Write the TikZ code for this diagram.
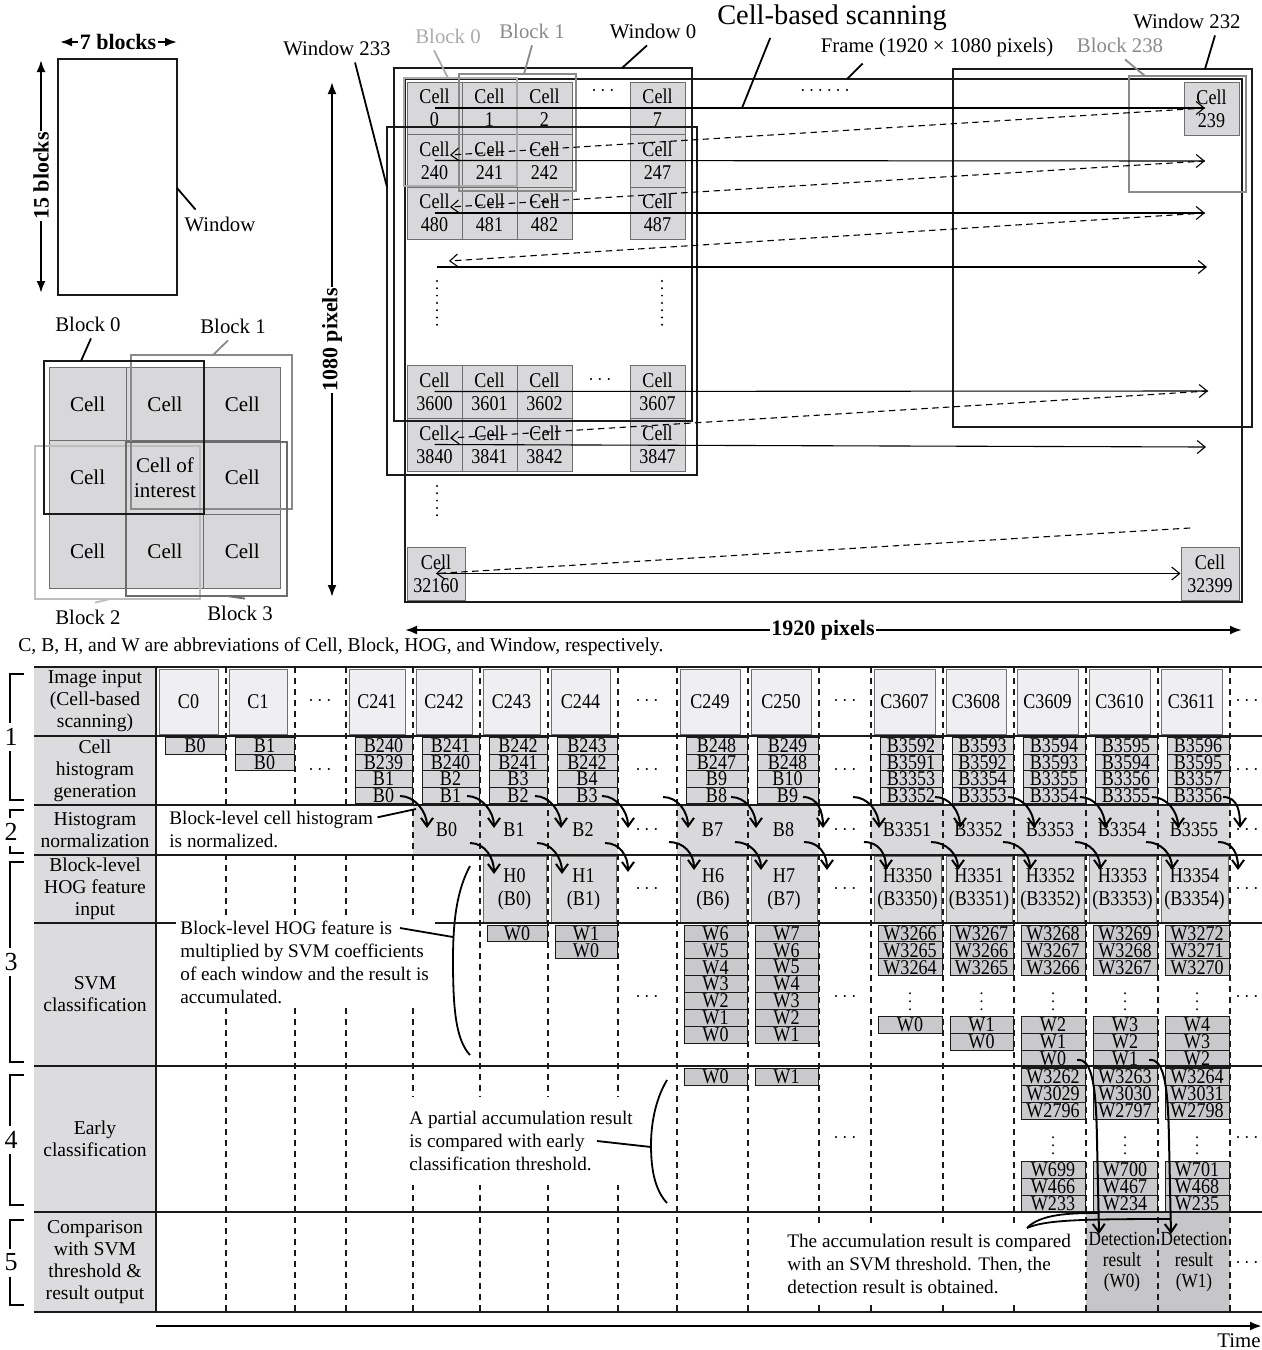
\documentclass[tikz,border=0pt]{standalone}
\usepackage{fontspec}
\setmainfont{Liberation Serif}
\newfontfamily\narrowserif{Liberation Serif}[FakeStretch=0.86]
\usepackage{tikz}
\usetikzlibrary{
arrows.meta,
calc
}
\definecolor{hogblack}{HTML}{1A1A1A}
\definecolor{cellgray}{HTML}{D8D8DA}
\definecolor{inputgray}{HTML}{EFEFF1}
\definecolor{blockgray}{HTML}{D6D6D8}
\definecolor{normgray}{HTML}{D9D9DB}
\definecolor{wingray}{HTML}{C9C9CB}
\definecolor{detgray}{HTML}{C6C6C8}
\definecolor{labgray}{HTML}{DCDCDE}
\definecolor{edgegray}{HTML}{6E6E70}
\definecolor{blkone}{HTML}{8A8A8A}
\definecolor{blktwo}{HTML}{BDBDBD}
\definecolor{blkthree}{HTML}{6C6C6C}
\definecolor{blklight}{HTML}{ABABAB}

%% box of given pixel extent: name, style, x0, x1, y0, y1, text
\newcommand{\hogslot}[7]{%
  \node[#2, minimum width={((#4)-(#3))*0.5pt},
        minimum height={((#6)-(#5))*0.5pt}]
    (#1) at ({((#3)+(#4))/2},{((#5)+(#6))/2}) {#7};}

\begin{document}
\begin{tikzpicture}[
  x=0.5pt, y=-0.5pt,
  every node/.style={font=\fontsize{10.4}{12}\selectfont},
  thickline/.style={line width=1.1pt, hogblack},
  dimlbl/.style={font=\bfseries\fontsize{11}{12}\selectfont, inner sep=0.5pt},
  dimarr/.style={line width=1.1pt, -{Latex[length=6pt,width=4.5pt]}},
  scanarr/.style={line width=0.55pt, -{Straight Barb[length=4pt,width=6.5pt]}},
  scanret/.style={scanarr, dash pattern=on 3.2pt off 2.2pt},
  flowarr/.style={line width=1pt, -{Straight Barb[length=4.2pt,width=6pt]}},
  leader/.style={line width=0.9pt},
  gridcell/.style={draw=edgegray, line width=0.5pt, fill=cellgray, inner sep=0pt,
    align=center, font=\fontsize{10.5}{12.5}\selectfont},
  topcell/.style={draw=edgegray, line width=0.5pt, fill=cellgray, inner sep=0pt,
    align=center, font=\narrowserif\fontsize{10.5}{11.5}\selectfont},
  inbox/.style={draw=edgegray, line width=0.5pt, fill=inputgray, inner sep=0pt,
    font=\narrowserif\fontsize{10.5}{12}\selectfont},
  bbox/.style={draw=hogblack, line width=0.5pt, fill=blockgray, inner sep=0pt,
    font=\narrowserif\fontsize{10.5}{12}\selectfont},
  nbox/.style={fill=normgray, inner sep=0pt, font=\narrowserif\fontsize{10.5}{12}\selectfont},
  hbox/.style={draw=edgegray, line width=0.5pt, fill=normgray, inner sep=0pt, align=center,
    font=\narrowserif\fontsize{10.5}{11.5}\selectfont},
  wbox/.style={draw=hogblack, line width=0.5pt, fill=wingray, inner sep=0pt,
    font=\narrowserif\fontsize{10.5}{12}\selectfont},
  dbox/.style={fill=detgray, inner sep=0pt, align=center,
    font=\narrowserif\fontsize{10}{10.5}\selectfont},
  vdot/.style={inner sep=0pt, font=\fontsize{8}{9}\selectfont},
  rowlbl/.style={align=center, font=\fontsize{9.8}{11}\selectfont},
  note/.style={align=left, fill=white, inner sep=2pt, font=\fontsize{9.6}{11.5}\selectfont},
  colsep/.style={dash pattern=on 3pt off 2.5pt, line width=0.6pt, hogblack}
]
\useasboundingbox (0,0) rectangle (1262,1350);

%% ── WINDOW SKETCH ───────────────────────────────────────────────
\node[dimlbl] (sevenb) at (118,42) {7 blocks};
\draw[dimarr] (sevenb.west) -- (60,42);
\draw[dimarr] (sevenb.east) -- (177,42);
\draw[thickline] (58,59) rectangle (177,295);
\node[dimlbl, rotate=90] (fifteenb) at (41,176) {15 blocks};
\draw[dimarr] (fifteenb.east) -- (41,60);
\draw[dimarr] (fifteenb.west) -- (41,293);
\node (winlbl) at (220,224) {Window};
\draw[leader] (177,188) -- ([xshift=9pt]winlbl.north west);

%% ── CELL / BLOCK SKETCH ─────────────────────────────────────────
\foreach \ii/\jj/\lab in {0/0/Cell, 1/0/Cell, 2/0/Cell, 0/1/Cell, 1/1/{Cell of\\interest},
                          2/1/Cell, 0/2/Cell, 1/2/Cell, 2/2/Cell}
  {\hogslot{g\ii\jj}{gridcell}{49+77.33*\ii}{126.33+77.33*\ii}{367+73.67*\jj}{440.67+73.67*\jj}{\lab}}
\draw[line width=1.3pt, blktwo] (35,446) rectangle (200,599);
\draw[line width=1.3pt, blkone] (131,355) rectangle (292,509);
\draw[line width=1.3pt, blkthree] (126,442) rectangle (287,596);
\draw[line width=1.3pt, hogblack] (44,361) rectangle (204,514);

\node (gblk0) at (88,324) {Block 0};
\draw[leader] ([xshift=1.5pt]gblk0.south) -- (81,361);
\node (gblk1) at (233,326) {Block 1};
\draw[leader, blkone] ([xshift=-2.5pt]gblk1.south) -- (213,355);
\node (gblk2) at (88,617) {Block 2};
\draw[leader, blktwo] ([xshift=3.5pt]gblk2.north) -- (110,599);
\node (gblk3) at (240,613) {Block 3};
\draw[leader, blkthree] ([xshift=2.5pt]gblk3.north) -- (227,596);

%% ── FRAME: CELL-BASED SCANNING ──────────────────────────────────
\foreach \ya/\yb/\ca/\cb/\cc/\cd in {82/134/0/1/2/7, 134/187/240/241/242/247,
    187/239/480/481/482/487, 365/418/3600/3601/3602/3607, 418/471/3840/3841/3842/3847}
{
  \hogslot{cell\ca}{topcell}{407}{462}{\ya}{\yb}{Cell\\\ca}
  \hogslot{cell\cb}{topcell}{462}{517}{\ya}{\yb}{Cell\\\cb}
  \hogslot{cell\cc}{topcell}{517}{572}{\ya}{\yb}{Cell\\\cc}
  \hogslot{cell\cd}{topcell}{630}{685}{\ya}{\yb}{Cell\\\cd}
}
\hogslot{cell239}{topcell}{1184}{1239}{82}{135}{Cell\\239}
\hogslot{cell32160}{topcell}{407}{465}{547}{600}{Cell\\32160}
\hogslot{cell32399}{topcell}{1181}{1239}{547}{600}{Cell\\32399}

\node (dotsa) at (603,91) {$\cdots$};
\node (dotsb) at (825,91) {$\cdots\cdots$};
\node (dotsc) at (600,380) {$\cdots$};
\foreach \kk in {0,...,6} {
  \fill (437,281+7.3*\kk) circle (0.55pt);
  \fill (662,281+7.3*\kk) circle (0.55pt);
}
\foreach \kk in {0,...,4}
  \fill (437,486+7.3*\kk) circle (0.55pt);

%% windows and blocks
\draw[line width=1.2pt, hogblack] (405,79) rectangle (1242,602);
\draw[line width=1.2pt, blklight] (404,78) rectangle (517,186);
\draw[line width=1.2pt, blkone] (459,74) rectangle (576,191);
\draw[line width=1.2pt, blkone] (1129,76) rectangle (1246,192);
\draw[line width=1.2pt, hogblack] (394,68) rectangle (692,421);
\draw[line width=1.2pt, hogblack] (387,127) rectangle (697,475);
\draw[line width=1.2pt, hogblack] (953,69) rectangle (1252,427);

%% scan order
\draw[scanarr] (cell0.center) -- (1205,108);
\draw[scanret] (1205,108) -- (450,155);
\draw[scanarr] (cell240.center) -- (1205,161);
\draw[scanret] (1205,161) -- (450,207);
\draw[scanarr] (cell480.center) -- (1205,213);
\draw[scanret] (1205,213) -- (449,261);
\draw[scanarr] (437,267) -- (1207,267);
\draw[scanarr] (cell3600.center) -- (1208,391);
\draw[scanret] (1208,391) -- (450,438);
\draw[scanarr] (cell3840.center) -- (1206,447);
\draw[scanret] (1190,528) -- (cell32160.center);
\draw[scanarr] (cell32160.center) -- (cell32399.west);

%% labels
\node[font=\fontsize{14.2}{16}\selectfont] (scanlbl) at (832,18) {Cell-based scanning};
\draw[leader] ([xshift=30pt]scanlbl.south west) -- (742,108);
\node (framelbl) at (937,47) {Frame (1920 × 1080 pixels)};
\draw[leader] ([xshift=24.5pt]framelbl.south west) -- (847,79);
\node (win233lbl) at (337,48) {Window 233};
\draw[leader] ([xshift=9pt]win233lbl.south) -- (387,187);
\node[blklight] (fblk0) at (448,36) {Block 0};
\draw[leader, blklight] ([xshift=-7pt]fblk0.south) -- (448,78);
\node[blkone] (fblk1) at (532,31) {Block 1};
\draw[leader, blkone] (fblk1.south) -- (524,74);
\node (win0lbl) at (653,31) {Window 0};
\draw[leader] ([xshift=-3pt]win0lbl.south) -- (622,68);
\node[blkone] (fblk238) at (1120,45) {Block 238};
\draw[leader, blkone] ([xshift=2.5pt]fblk238.south) -- (1145,76);
\node (win232lbl) at (1187,21) {Window 232};
\draw[leader] ([xshift=14pt]win232lbl.south) -- (1205,69);

%% frame dimensions
\node[dimlbl, rotate=90] (hpix) at (332,340) {1080 pixels};
\draw[dimarr] (hpix.east) -- (332,82);
\draw[dimarr] (hpix.west) -- (332,597);
\node[dimlbl] (wpix) at (823,630) {1920 pixels};
\draw[dimarr] (wpix.west) -- (405,630);
\draw[dimarr] (wpix.east) -- (1242,630);

\node[anchor=west, inner sep=0pt, font=\fontsize{9.8}{11}\selectfont] (abbrev) at (18,647)
  {C, B, H, and W are abbreviations of Cell, Block, HOG, and Window, respectively.};

%% ── PIPELINE TABLE ──────────────────────────────────────────────
\fill[labgray] (34,667) rectangle (156,1312);
\foreach \ya/\yb/\lab [count=\rr] in {667/736/{Image input\\(Cell-based\\scanning)},
    736/805/{Cell\\histogram\\generation}, 805/855/{Histogram\\normalization},
    855/923/{Block-level\\HOG feature\\input}, 923/1066/{SVM\\classification},
    1066/1212/{Early\\classification},
    1212/1312/{Comparison\\with SVM\\threshold \&\\result output}}
  \node[rowlbl] (row\rr) at (95,{(\ya+\yb)/2}) {\lab};

%% image input
\foreach \cn/\xs/\cw in {C0/156/70, C1/226/69, C241/346/67, C242/413/67, C243/480/68,
    C244/548/70, C249/677/71, C250/748/71, C3607/871/72, C3608/943/71, C3609/1014/72,
    C3610/1086/72, C3611/1158/72}
  {\hogslot{in\cn}{inbox}{\xs+3}{\xs+\cw-8}{669}{734}{\cn}}

%% cell histogram generation
\foreach \xs/\cw/\lst in {156/70/{B0}, 226/69/{B1,B0}, 346/67/{B240,B239,B1,B0},
    413/67/{B241,B240,B2,B1}, 480/68/{B242,B241,B3,B2}, 548/70/{B243,B242,B4,B3},
    677/71/{B248,B247,B9,B8}, 748/71/{B249,B248,B10,B9}, 871/72/{B3592,B3591,B3353,B3352},
    943/71/{B3593,B3592,B3354,B3353}, 1014/72/{B3594,B3593,B3355,B3354},
    1086/72/{B3595,B3594,B3356,B3355}, 1158/72/{B3596,B3595,B3357,B3356}}
  {\foreach \lab [count=\kk from 0] in \lst
     {\hogslot{hb\xs-\kk}{bbox}{\xs+9}{\xs+\cw-1}{737.5+16.6*\kk}{754.1+16.6*\kk}{\lab}}}

%% histogram normalization
\foreach \xs/\cw/\lab in {413/67/B0, 480/68/B1, 548/70/B2, 677/71/B7, 748/71/B8,
    871/72/B3351, 943/71/B3352, 1014/72/B3353, 1086/72/B3354, 1158/72/B3355}
  {\hogslot{nb\xs}{nbox}{\xs}{\xs+\cw}{805}{855}{\lab}}

%% block-level HOG feature input
\foreach \xs/\cw/\hh/\hb in {480/68/H0/B0, 548/70/H1/B1, 677/71/H6/B6, 748/71/H7/B7,
    871/72/H3350/B3350, 943/71/H3351/B3351, 1014/72/H3352/B3352, 1086/72/H3353/B3353,
    1158/72/H3354/B3354}
  {\hogslot{hg\xs}{hbox}{\xs+3}{\xs+\cw-2}{856}{923}{\hh\\(\hb)}}

%% SVM classification
\foreach \xs/\cw/\lst in {480/68/{W0}, 548/70/{W1,W0}, 677/71/{W6,W5,W4,W3,W2,W1,W0},
    748/71/{W7,W6,W5,W4,W3,W2,W1}, 871/72/{W3266,W3265,W3264}, 943/71/{W3267,W3266,W3265},
    1014/72/{W3268,W3267,W3266}, 1086/72/{W3269,W3268,W3267}, 1158/72/{W3272,W3271,W3270}}
  {\foreach \lab [count=\kk from 0] in \lst
     {\hogslot{sw\xs-\kk}{wbox}{\xs+7}{\xs+\cw-1}{925+16.9*\kk}{941.9+16.9*\kk}{\lab}}}
\foreach \xs/\cw/\lst in {871/72/{W0}, 943/71/{W1,W0}, 1014/72/{W2,W1,W0},
    1086/72/{W3,W2,W1}, 1158/72/{W4,W3,W2}}
  {\foreach \lab [count=\kk from 0] in \lst
     {\hogslot{sl\xs-\kk}{wbox}{\xs+7}{\xs+\cw-1}{1016.3+16.9*\kk}{1033.2+16.9*\kk}{\lab}}
   \node[vdot] (sv\xs) at ({\xs+\cw/2+3},996) {$\vdots$};}

%% early classification
\foreach \xs/\cw/\lst in {677/71/{W0}, 748/71/{W1}, 1014/72/{W3262,W3029,W2796},
    1086/72/{W3263,W3030,W2797}, 1158/72/{W3264,W3031,W2798}}
  {\foreach \lab [count=\kk from 0] in \lst
     {\hogslot{ew\xs-\kk}{wbox}{\xs+7}{\xs+\cw-1}{1068.5+16.9*\kk}{1085.4+16.9*\kk}{\lab}}}
\foreach \xs/\cw/\lst in {1014/72/{W699,W466,W233}, 1086/72/{W700,W467,W234},
    1158/72/{W701,W468,W235}}
  {\foreach \lab [count=\kk from 0] in \lst
     {\hogslot{el\xs-\kk}{wbox}{\xs+7}{\xs+\cw-1}{1161.3+16.9*\kk}{1178.2+16.9*\kk}{\lab}}
   \node[vdot] (ev\xs) at ({\xs+\cw/2+3},1140) {$\vdots$};}

%% result output
\hogslot{det0}{dbox}{1086}{1158}{1212}{1312}{Detection\\result\\(W0)}
\hogslot{det1}{dbox}{1158}{1230}{1212}{1312}{Detection\\result\\(W1)}

%% ellipses
\foreach \x/\y in {320/701, 647/701, 845/701, 1247/701, 320/770, 647/770, 845/770,
    1247/770, 647/830, 845/830, 1247/830, 647/889, 845/889, 1247/889, 647/997,
    845/997, 1247/997, 845/1138, 1247/1138, 1247/1263}
  \node (dot\x-\y) at (\x,\y) {$\cdots$};

%% column separators
\foreach \x in {226,295,346,413,480,548,618,677,748,819,871,943,1014,1086,1158,1230}
  \draw[colsep] (\x,667) -- (\x,1312);

%% annotations
\node[note, anchor=west] (normnote) at (165,829)
  {Block-level cell histogram\\is normalized.};
\draw[leader] ([yshift=-5.5pt]normnote.north east) -- (416,809);
\node[note, anchor=west] (svmnote) at (176,962)
  {Block-level HOG feature is\\multiplied by SVM coefficients\\of each window and the result is\\accumulated.};
\draw[leader] (400,928) -- (453,937);
\draw[leader] (470,866) .. controls (457,890) and (453,920) .. (453,960)
  .. controls (453,1010) and (456,1040) .. (470,1055);
\node[note, anchor=west, inner ysep=7pt] (earlynote) at (405,1141)
  {A partial accumulation result\\is compared with early\\classification threshold.};
\draw[leader] (597,1141) -- (651,1147);
\draw[leader] (667,1080) .. controls (655,1100) and (651,1125) .. (651,1145)
  .. controls (651,1170) and (655,1190) .. (667,1203);
\node[note, anchor=west, inner ysep=4pt] (resnote) at (783,1264)
  {The accumulation result is compared\\with an SVM threshold. Then, the\\detection result is obtained.};

%% row rules
\foreach \y in {667,736,805,855,1066,1212,1312}
  \draw[thickline] (34,\y) -- (1262,\y);
\draw[thickline] (34,923) -- (176,923);
\draw[thickline] (435,923) -- (1262,923);
\draw[thickline] (156,667) -- (156,1312);

%% data flow
\foreach \xa/\ya/\xb/\yb in {400/796/427/828, 467/796/494/828, 535/796/561/828,
    602/796/628/828, 663/797/688/828, 731/797/756/828, 803/797/823/828, 853/797/879/828,
    935/797/960/828, 1008/797/1034/828, 1080/797/1105/828, 1152/797/1178/828,
    1223/797/1240/828}
  \draw[flowarr] (\xa,\ya) .. controls +(15,0) and +(0,-16) .. (\xb,\yb);
\foreach \xa/\ya/\xb/\yb in {470/843/494/874, 537/843/562/874, 605/843/628/872,
    669/842/694/870, 735/842/761/870, 804/842/827/870, 864/842/886/870, 931/842/958/870,
    1003/842/1030/870, 1075/842/1100/870, 1146/842/1172/870, 1218/842/1238/870}
  \draw[flowarr] (\xa,\ya) .. controls +(15,0) and +(0,-16) .. (\xb,\yb);

\draw[flowarr] (1077,1060) .. controls (1092,1058) and (1096,1085) .. (1097,1140)
  -- (1099,1234);
\draw[flowarr] (1149,1060) .. controls (1164,1058) and (1168,1085) .. (1169,1140)
  -- (1171,1234);
\coordinate (resfork) at (1027,1228);
\draw[leader] (resfork) .. controls (1040,1214) and (1070,1213) .. (1098,1213);
\draw[leader] (resfork) .. controls (1045,1220) and (1080,1219) .. (1171,1219);

%% stage brackets
\foreach \num/\ya/\yb in {1/674/800, 2/810/853, 3/862/1062, 4/1075/1205, 5/1220/1305}
{
  \node[font=\fontsize{13}{14}\selectfont, inner sep=0pt] (stage\num) at (11,{(\ya+\yb)/2}) {\num};
  \draw[line width=1.1pt] (24,\ya) -- (10,\ya) -- (10,{(\ya+\yb)/2-14});
  \draw[line width=1.1pt] (10,{(\ya+\yb)/2+14}) -- (10,\yb) -- (24,\yb);
}

%% time axis
\draw[line width=1.2pt, -{Latex[length=6pt,width=4.5pt]}] (156,1326) -- (1262,1326);
\node[anchor=east, inner sep=0pt] (timelbl) at (1261,1341) {Time};

\end{tikzpicture}
\end{document}
